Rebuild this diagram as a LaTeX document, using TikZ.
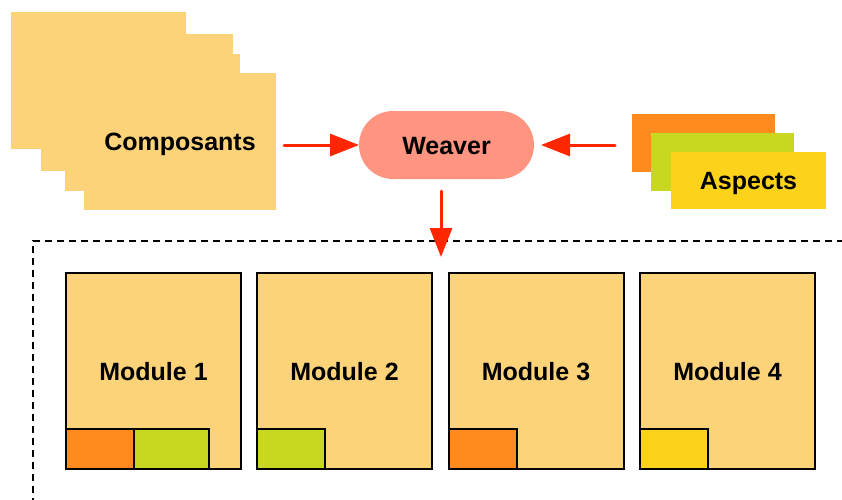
\documentclass[tikz,border=0pt]{standalone}
\usepackage{fontspec}
\setmainfont{Liberation Sans}
\usepackage{tikz}
\usetikzlibrary{arrows.meta}

\definecolor{sand}{RGB}{253,211,122}
\definecolor{salmon}{RGB}{255,149,128}
\definecolor{arrowred}{RGB}{255,38,0}
\definecolor{aorange}{RGB}{255,138,30}
\definecolor{agreen}{RGB}{200,215,32}
\definecolor{ayellow}{RGB}{253,210,26}

\begin{document}
\begin{tikzpicture}[x=1pt, y=-1pt, thin,
    every node/.style={font=\fontsize{25}{30}\selectfont\bfseries,
      inner sep=0pt, outer sep=0pt, text height=18pt, text depth=0pt},
    comp node/.style={rectangle,fill=sand,minimum height=137pt},
    aspect node/.style={rectangle,minimum width=143pt,minimum height=58pt},
    module node/.style={rectangle,draw=black,line width=2pt,fill=sand,
      minimum width=175pt,minimum height=196pt},
    piece node/.style={rectangle,draw=black,line width=2pt,anchor=south west,
      minimum width=68pt,minimum height=40pt},
    flow/.style={draw=arrowred,line width=3pt,line cap=round,
      -{Triangle[length=29pt,width=22pt]}}]

    \clip (0,0) rectangle (842,499);

    % components
    \node[comp node, minimum width=175pt] (c1) at (98.5,80.5) {};
    \node[comp node, minimum width=192pt] (c2) at (137,102.5) {};
    \node[comp node, minimum width=175pt] (c3) at (152.5,122.5) {};
    \node[comp node, minimum width=192pt] (c4) at (180,141.5) {Composants};

    % weaver
    \node[rectangle, rounded corners=34pt, fill=salmon, minimum width=175pt,
      minimum height=68pt] (w) at (446.5,145) {Weaver};

    % aspects
    \node[aspect node, fill=aorange] (a1) at (703.5,143) {};
    \node[aspect node, fill=agreen] (a2) at (722.5,162) {};
    \node[aspect node, fill=ayellow, minimum width=155pt,
      minimum height=57pt] (a3) at (748.5,180.5) {Aspects};

    % woven system
    \draw[dashed, dash pattern=on 7pt off 5pt, line width=2pt]
      (33,505) -- (33,241) -- (850,241);

    \node[module node] (m1) at (153.5,371) {Module 1};
    \node[module node] (m2) at (344.5,371) {Module 2};
    \node[module node] (m3) at (536,371) {Module 3};
    \node[module node] (m4) at (727.5,371) {Module 4};

    \node[piece node, fill=aorange] (p1) at (m1.south west) {};
    \node[piece node, fill=agreen, minimum width=75pt] (p2) at (p1.south east) {};
    \node[piece node, fill=agreen] (p3) at (m2.south west) {};
    \node[piece node, fill=aorange] (p4) at (m3.south west) {};
    \node[piece node, fill=ayellow] (p5) at (m4.south west) {};

    \coordinate (drop) at (441,257);

    \draw[flow] ([xshift=8pt]c4.east |- w.west) -- (w.west);
    \draw[flow] ([xshift=-17pt]a1.west |- w.east) -- ([xshift=7pt]w.east);
    \draw[flow] ([xshift=-5.5pt,yshift=-12pt]w.south) -- (drop);
\end{tikzpicture}
\end{document}
